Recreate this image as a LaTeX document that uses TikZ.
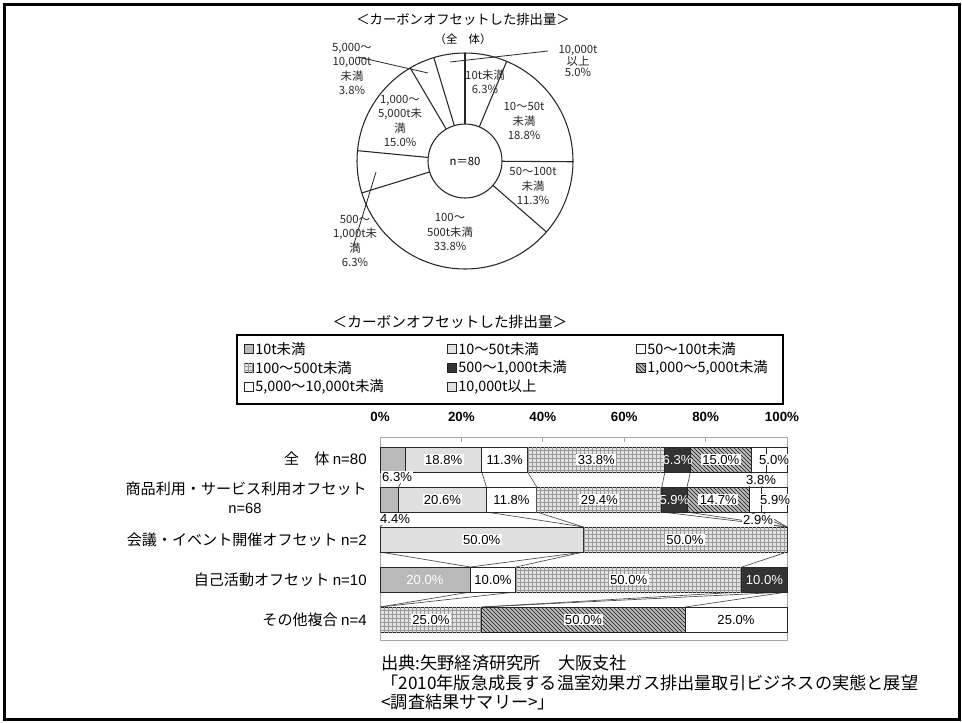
\documentclass[tikz,border=0pt]{standalone}
\usepackage{fontspec}
\setmainfont{Noto Sans CJK JP}
\newfontfamily\arialf{Liberation Sans}
\usetikzlibrary{patterns,calc}
\newcommand\bseg[4]{\draw[bsegline,#1] (#2,#4) rectangle (#3,#4+25);}
\newcommand\legmark[3]{\draw[legbox,#1] (#2-4.5,#3-4.5) rectangle (#2+4.5,#3+4.5);}
\begin{document}
\begin{tikzpicture}[x=0.75pt,y=-0.75pt,
  frame/.style={line width=2.2pt},
  pieline/.style={line width=0.8pt, draw=black!85},
  lead/.style={line width=0.6pt, draw=black!85},
  pietxt/.style={font=\fontsize{8.5}{10.8}\selectfont, align=center, inner sep=0pt, text=black!85},
  bsegline/.style={draw=black!85, line width=0.7pt},
  legbox/.style={draw=black!85, line width=0.6pt},
  s10/.style={fill=gray!55},
  s50/.style={fill=gray!25},
  s100/.style={fill=white},
  s500/.style={fill=gray!22, postaction={pattern=grid, pattern color=gray!80}},
  s1k/.style={fill=black!80},
  s5k/.style={fill=gray!55, postaction={pattern=north west lines, pattern color=black!90}},
  s10k/.style={fill=white},
  sover/.style={fill=white},
  serline/.style={draw=black!70, line width=0.5pt},
  blab/.style={font=\arialf\fontsize{9.8}{11}\selectfont, fill=white, inner sep=1pt},
  wlab/.style={font=\arialf\fontsize{9.8}{11}\selectfont, text=white, inner sep=1pt},
  rlab/.style={font=\fontsize{11.3}{13}\selectfont, anchor=east, inner sep=0pt},
  alab/.style={font=\arialf\bfseries\fontsize{10}{12}\selectfont, inner sep=0pt},
  leg/.style={font=\fontsize{10.8}{12}\selectfont, anchor=west, inner sep=0pt},
  foot/.style={font=\fontsize{12.9}{15}\selectfont, anchor=west, inner sep=0pt}
]
\useasboundingbox (0,0) rectangle (962,722);
\draw[frame] (4.5,4.5) rectangle (959.5,719.5);

% ---------------- pie chart ----------------
\node[font=\fontsize{10}{12}\selectfont, inner sep=0pt] (pt1) at (463,19) {＜カーボンオフセットした排出量＞};
\node[font=\fontsize{8.5}{10}\selectfont, inner sep=0pt] (pt2) at (463,39) {（全　体）};
\coordinate (pc) at (465,161);
\draw[pieline] (pc) circle[radius=81pt];
\foreach \a in {90,67.3,-0.4,-41.1,-162.8,174.5,120.5,106.8}
  \draw[pieline] ($(pc)+(\a:27.75pt)$) -- ($(pc)+(\a:81pt)$);
\draw[pieline,fill=white] (pc) circle[radius=27.75pt];
\node[font=\fontsize{8.5}{10}\selectfont, inner sep=0pt] (n80) at (pc) {n＝80};

\node[pietxt, font=\fontsize{8.5}{8.8}\selectfont] (l10k) at (578,61) {10,000t\\以上\\5.0\%};
\node[pietxt] (l5k) at (352,69) {5,000〜\\10,000t\\未満\\3.8\%};
\node[pietxt] (l10) at (485,82) {10t未満\\6.3\%};
\node[pietxt] (l50) at (524,121) {10〜50t\\未満\\18.8\%};
\node[pietxt] (l1k) at (400,121) {1,000〜\\5,000t未\\満\\15.0\%};
\node[pietxt] (l100) at (533,186) {50〜100t\\未満\\11.3\%};
\node[pietxt] (l500) at (450,232) {100〜\\500t未満\\33.8\%};
\node[pietxt] (l1000) at (355,241) {500〜\\1,000t未\\満\\6.3\%};

\coordinate (a1) at (548,51); \coordinate (a2) at (450,62);
\coordinate (b1) at (358,57); \coordinate (b2) at (428,73);
\coordinate (c1) at (376,172); \coordinate (c2) at (353,247);
\draw[lead] (a1) -- (a2);
\draw[lead] (b1) -- (b2);
\draw[lead] (c1) -- (c2);

% ---------------- legend ----------------
\node[font=\fontsize{11}{13}\selectfont, inner sep=0pt] (bt) at (450,322) {＜カーボンオフセットした排出量＞};
\draw[line width=0.9pt] (237,335) rectangle (783,404);
\legmark{s10}{248.5}{349}  \node[leg] (g1) at (255,349) {10t未満};
\legmark{s50}{451.5}{349}  \node[leg] (g2) at (458,349) {10〜50t未満};
\legmark{s100}{640.5}{349} \node[leg] (g3) at (647,349) {50〜100t未満};
\legmark{s500}{248.5}{368} \node[leg] (g4) at (255,368) {100〜500t未満};
\legmark{s1k}{451.5}{368}  \node[leg] (g5) at (458,368) {500〜1,000t未満};
\legmark{s5k}{640.5}{368}  \node[leg] (g6) at (647,368) {1,000〜5,000t未満};
\legmark{s10k}{248.5}{387} \node[leg] (g7) at (255,387) {5,000〜10,000t未満};
\legmark{s50}{451.5}{387}  \node[leg] (g8) at (458,387) {10,000t以上};

% ---------------- axis ----------------
\node[alab] (ax0) at (380,417) {0\%};
\node[alab] (ax1) at (461.4,417) {20\%};
\node[alab] (ax2) at (542.8,417) {40\%};
\node[alab] (ax3) at (624.2,417) {60\%};
\node[alab] (ax4) at (705.6,417) {80\%};
\node[alab] (ax5) at (782,417) {100\%};
\draw[draw=gray!70, line width=0.7pt] (380,437) rectangle (787,640);
\foreach \x in {461.4,542.8,624.2,705.6}
  \draw[draw=gray!70, line width=0.7pt] (\x,437) -- (\x,442);

% ---------------- series lines ----------------
\foreach \p/\q in {405.6/398.7,481.8/486.4,527.7/536.7,664.9/661.8,690.4/687.0,751.3/749.5,766.7/761.9}
  \draw[serline] (\p,472) -- (\q,487);
\foreach \p/\q in {398.7/380,486.4/583.5,536.7/583.5,661.8/787,687.0/787,749.5/787,761.9/787}
  \draw[serline] (\p,512) -- (\q,527);
\foreach \p/\q in {380/470.4,583.5/470.4,583.5/515.7,787/741.8}
  \draw[serline] (\p,552) -- (\q,567);
\foreach \p/\q in {470.4/380,515.7/380,741.8/481.75,787/481.75,787/685.25}
  \draw[serline] (\p,592) -- (\q,607);

% ---------------- bars ----------------
% row 1
\bseg{s10}{380}{405.6}{447}
\bseg{s50}{405.6}{481.8}{447}
\bseg{s100}{481.8}{527.7}{447}
\bseg{s500}{527.7}{664.9}{447}
\bseg{s1k}{664.9}{690.4}{447}
\bseg{s5k}{690.4}{751.3}{447}
\bseg{s10k}{751.3}{766.7}{447}
\bseg{sover}{766.7}{787}{447}
% row 2
\bseg{s10}{380}{398.7}{487}
\bseg{s50}{398.7}{486.4}{487}
\bseg{s100}{486.4}{536.7}{487}
\bseg{s500}{536.7}{661.8}{487}
\bseg{s1k}{661.8}{687.0}{487}
\bseg{s5k}{687.0}{749.5}{487}
\bseg{s10k}{749.5}{761.9}{487}
\bseg{sover}{761.9}{787}{487}
% row 3
\bseg{s50}{380}{583.5}{527}
\bseg{s500}{583.5}{787}{527}
% row 4
\bseg{s10}{380}{470.4}{567}
\bseg{s100}{470.4}{515.7}{567}
\bseg{s500}{515.7}{741.8}{567}
\bseg{s1k}{741.8}{787}{567}
% row 5
\bseg{s500}{380}{481.75}{607}
\bseg{s5k}{481.75}{685.25}{607}
\bseg{s10k}{685.25}{787}{607}

% ---------------- bar labels ----------------
\node[blab] (r1a) at (397,477) {6.3\%};
\node[blab] (r1b) at (443.7,459.5) {18.8\%};
\node[blab] (r1c) at (504.7,459.5) {11.3\%};
\node[blab] (r1d) at (596.3,459.5) {33.8\%};
\node[wlab] (r1e) at (677.6,459.5) {6.3\%};
\node[blab] (r1f) at (720.8,459.5) {15.0\%};
\node[blab] (r1g) at (761,480) {3.8\%};
\node[blab] (r1h) at (774,459.5) {5.0\%};

\node[blab] (r2a) at (395,519) {4.4\%};
\node[blab] (r2b) at (442.5,499.5) {20.6\%};
\node[blab] (r2c) at (511.5,499.5) {11.8\%};
\node[blab] (r2d) at (599.3,499.5) {29.4\%};
\node[wlab] (r2e) at (674.4,499.5) {5.9\%};
\node[blab] (r2f) at (718.3,499.5) {14.7\%};
\node[blab] (r2g) at (758,520) {2.9\%};
\node[blab] (r2h) at (775,499.5) {5.9\%};

\node[blab] (r3a) at (481.7,539.5) {50.0\%};
\node[blab] (r3b) at (685,539.5) {50.0\%};

\node[wlab] (r4a) at (425,579.5) {20.0\%};
\node[blab] (r4b) at (493,579.5) {10.0\%};
\node[blab] (r4c) at (628.7,579.5) {50.0\%};
\node[wlab] (r4d) at (764.4,579.5) {10.0\%};

\node[blab] (r5a) at (430.9,619.5) {25.0\%};
\node[blab] (r5b) at (583.5,619.5) {50.0\%};
\node[blab] (r5c) at (736,619.5) {25.0\%};

% ---------------- row labels ----------------
\node[rlab] (c1) at (367,459) {全　体 {\arialf n=80}};
\node[rlab] (c2) at (367,489) {商品利用・サービス利用オフセット};
\node[font=\arialf\fontsize{11}{13}\selectfont, inner sep=0pt] (c2n) at (245,508) {n=68};
\node[rlab] (c3) at (367,540) {会議・イベント開催オフセット {\arialf n=2}};
\node[rlab] (c4) at (367,580) {自己活動オフセット {\arialf n=10}};
\node[rlab] (c5) at (367,620) {その他複合 {\arialf n=4}};

% ---------------- footer ----------------
\node[foot] (f1) at (381,663) {出典:矢野経済研究所　大阪支社};
\node[foot] (f2) at (381,683) {「2010年版急成長する温室効果ガス排出量取引ビジネスの実態と展望};
\node[foot] (f3) at (381,702) {<調査結果サマリー>」};
\end{tikzpicture}
\end{document}
